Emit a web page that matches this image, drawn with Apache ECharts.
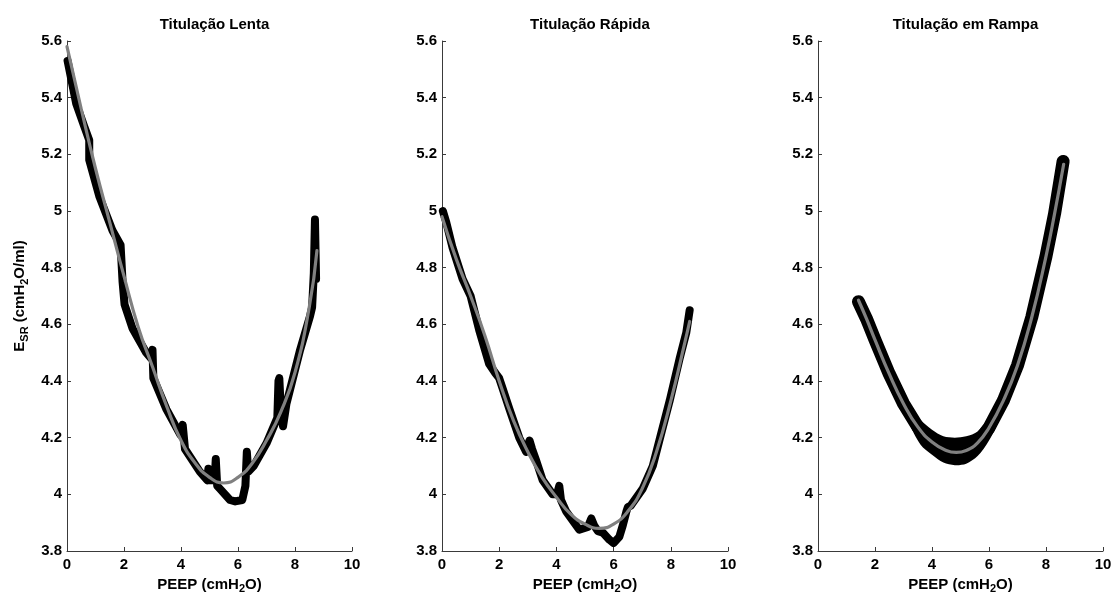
<!DOCTYPE html>
<html>
<head>
<meta charset="utf-8">
<script src="https://cdn.jsdelivr.net/npm/echarts@6/dist/echarts.min.js"></script>
<style>
html,body{margin:0;padding:0;background:#fff;}
#chart{width:1114px;height:595px;}
</style>
</head>
<body>
<div id="chart"></div>
<script>
// ---------- data ----------
const panelTitles = ['Titulação Lenta', 'Titulação Rápida', 'Titulação em Rampa'];
const xTickLabels = ['0', '2', '4', '6', '8', '10'];
const yTickLabels = ['3.8', '4', '4.2', '4.4', '4.6', '4.8', '5', '5.2', '5.4', '5.6'];

// Panel 1: Titulação Lenta (measured trace)
const lentaX = [0.02,0.32,0.60,0.78,0.78,1.14,1.60,1.88,1.95,2.02,2.30,2.78,2.95,3.00,3.03,3.49,3.98,4.06,4.10,4.14,4.66,4.92,4.96,5.02,5.18,5.22,5.27,5.36,5.72,5.90,6.15,6.26,6.31,6.36,6.55,7.00,7.38,7.42,7.45,7.50,7.58,7.70,8.18,8.53,8.60,8.66,8.70,8.72,8.74];
const lentaY = [5.53,5.38,5.30,5.25,5.18,5.05,4.93,4.88,4.75,4.67,4.585,4.50,4.48,4.51,4.41,4.30,4.21,4.245,4.24,4.16,4.08,4.05,4.09,4.05,4.05,4.125,4.03,4.02,3.98,3.975,3.98,4.03,4.15,4.08,4.10,4.18,4.27,4.40,4.41,4.30,4.24,4.32,4.51,4.63,4.66,4.78,4.97,4.97,4.76];
// Panel 1 fitted curve
const lentaFitX = [0,0.5,1,1.5,2,2.5,3,3.5,4,4.5,5,5.5,6,6.5,7,7.5,8,8.5,8.77];
const lentaFitY = [5.58,5.36,5.15,4.96,4.77,4.59,4.45,4.31,4.19,4.11,4.06,4.04,4.06,4.11,4.19,4.29,4.43,4.66,4.86];

// Panel 2: Titulação Rápida (measured trace)
const rapidaX = [0.03,0.15,0.37,0.72,1.00,1.30,1.65,1.85,2.00,2.10,2.36,2.70,2.94,3.00,3.06,3.15,3.29,3.52,3.87,4.02,4.10,4.16,4.34,4.80,5.10,5.22,5.32,5.45,5.62,5.85,6.00,6.20,6.32,6.45,6.50,6.60,7.02,7.37,7.60,7.96,8.31,8.54,8.66];
const rapidaY = [5.00,4.96,4.87,4.76,4.70,4.58,4.46,4.43,4.41,4.38,4.30,4.20,4.15,4.17,4.19,4.16,4.12,4.05,4.00,4.00,4.03,3.98,3.94,3.875,3.885,3.915,3.89,3.87,3.865,3.84,3.828,3.85,3.89,3.94,3.955,3.96,4.02,4.10,4.19,4.33,4.48,4.57,4.65];
// Panel 2 fitted curve
const rapidaFitX = [0,0.5,1,1.5,2,2.5,3,3.5,4,4.5,5,5.5,6,6.5,7,7.5,8,8.5,8.66];
const rapidaFitY = [4.98,4.83,4.70,4.56,4.40,4.26,4.15,4.06,3.99,3.93,3.895,3.88,3.895,3.94,4.02,4.15,4.33,4.54,4.61];

// Panel 3: Titulação em Rampa (measured trace centre and noisy band near minimum)
const rampaX = [1.42,1.7,2,2.5,3,3.5,4,4.5,4.85,5.2,5.6,6,6.5,7,7.5,8,8.3,8.6];
const rampaY = [4.68,4.62,4.545,4.425,4.32,4.238,4.185,4.155,4.148,4.155,4.182,4.235,4.33,4.455,4.625,4.84,4.99,5.175];
const rampaBandX = [3.2,3.6,4.0,4.4,4.8,5.2,5.6,6.0,6.4];
const rampaBandUpper = [4.31,4.262,4.228,4.205,4.200,4.205,4.222,4.272,4.335];
const rampaBandLower = [4.255,4.175,4.140,4.112,4.103,4.108,4.135,4.190,4.275];
// Panel 3 fitted curve
const rampaFitX = [1.42,1.7,2,2.5,3,3.5,4,4.5,4.85,5.2,5.6,6,6.5,7,7.5,8,8.3,8.62];
const rampaFitY = [4.685,4.62,4.545,4.425,4.32,4.238,4.185,4.155,4.148,4.155,4.182,4.235,4.33,4.455,4.625,4.84,4.99,5.165];

// ---------- chart ----------
const zip = (xs, ys) => xs.map((x, i) => [x, ys[i]]);
const FONT = 'Liberation Sans, Arial, sans-serif';
const AXIS_COLOR = '#3a3a3a';
const xMin = Number(xTickLabels[0]), xMax = Number(xTickLabels[xTickLabels.length - 1]);
const yMin = Number(yTickLabels[0]), yMax = Number(yTickLabels[yTickLabels.length - 1]);

const grids = [
  {left: 67, top: 41, width: 285, height: 510, containLabel: false, outerBoundsMode: 'none'},
  {left: 442, top: 41, width: 286, height: 510, containLabel: false, outerBoundsMode: 'none'},
  {left: 818, top: 41, width: 285, height: 510, containLabel: false, outerBoundsMode: 'none'}
];

const subRich = {
  sub: {fontSize: 11, fontWeight: 'bold', fontFamily: FONT, color: '#000', padding: [9, 0, 0, 0]},
  n: {fontSize: 15, fontWeight: 'bold', fontFamily: FONT, color: '#000'}
};

const xAxes = grids.map((g, i) => ({
  type: 'value', gridIndex: i, min: xMin, max: xMax, interval: 2,
  axisLine: {show: true, lineStyle: {color: AXIS_COLOR, width: 1}},
  axisTick: {show: true, inside: true, length: 4, lineStyle: {color: AXIS_COLOR}},
  splitLine: {show: false},
  axisLabel: {color: '#000', fontSize: 15, fontWeight: 'bold', fontFamily: FONT, margin: 6},
  name: '{n|PEEP (cmH}{sub|2}{n|O)}',
  nameLocation: 'middle', nameGap: 23,
  nameTextStyle: {rich: subRich}
}));

const yAxes = grids.map((g, i) => ({
  type: 'value', gridIndex: i, min: yMin, max: yMax, interval: 0.2,
  axisLine: {show: true, lineStyle: {color: AXIS_COLOR, width: 1}},
  axisTick: {show: true, inside: true, length: 4, lineStyle: {color: AXIS_COLOR}},
  splitLine: {show: false},
  axisLabel: {color: '#000', fontSize: 15, fontWeight: 'bold', fontFamily: FONT, margin: 5,
    formatter: v => String(Math.round(v * 10) / 10)},
  name: i === 0 ? '{n|E}{sub|SR}{n| (cmH}{sub|2}{n|O/ml)}' : '',
  nameLocation: 'middle', nameGap: 37, nameRotate: 90,
  nameTextStyle: {rich: subRich}
}));

const blackLine = (i, xs, ys, w) => ({
  type: 'line', xAxisIndex: i, yAxisIndex: i, data: zip(xs, ys),
  symbol: 'none', smooth: false, z: 2,
  lineStyle: {color: '#000', width: w, cap: 'round', join: 'round'}
});
const fitLine = (i, xs, ys) => ({
  type: 'line', xAxisIndex: i, yAxisIndex: i, data: zip(xs, ys),
  symbol: 'none', smooth: true, z: 5,
  lineStyle: {color: '#808080', width: 3.2, cap: 'round'}
});

const bandSeries = {
  type: 'custom', xAxisIndex: 2, yAxisIndex: 2, z: 3,
  data: [[rampaBandX[0], rampaBandUpper[0]]],
  renderItem: (params, api) => {
    const up = rampaBandX.map((x, k) => api.coord([x, rampaBandUpper[k]]));
    const lo = rampaBandX.map((x, k) => api.coord([x, rampaBandLower[k]])).reverse();
    return {type: 'polygon', shape: {points: up.concat(lo), smooth: 0.3}, style: {fill: '#000'}};
  }
};

const option = {
  animation: false,
  backgroundColor: '#fff',
  title: panelTitles.map((t, i) => ({
    text: t, left: grids[i].left + grids[i].width / 2, top: 12, textAlign: 'center',
    textStyle: {fontSize: 15, fontWeight: 'bold', fontFamily: FONT, color: '#000'}
  })),
  grid: grids,
  xAxis: xAxes,
  yAxis: yAxes,
  series: [
    blackLine(0, lentaX, lentaY, 8),
    fitLine(0, lentaFitX, lentaFitY),
    blackLine(1, rapidaX, rapidaY, 8),
    fitLine(1, rapidaFitX, rapidaFitY),
    blackLine(2, rampaX, rampaY, 13),
    bandSeries,
    fitLine(2, rampaFitX, rampaFitY)
  ]
};

const chart = echarts.init(document.getElementById('chart'), null, {renderer: 'canvas'});
chart.setOption(option);
</script>
</body>
</html>
